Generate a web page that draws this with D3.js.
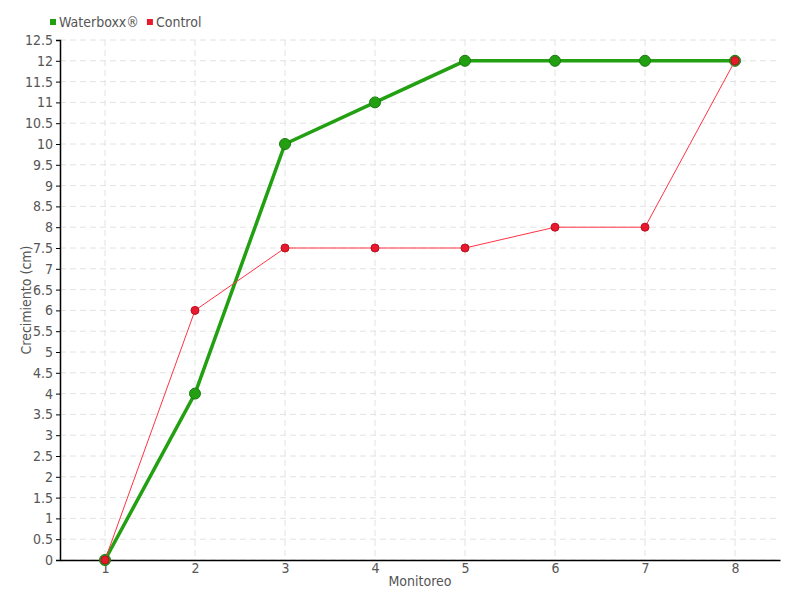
<!DOCTYPE html>
<html>
<head>
<meta charset="utf-8">
<script src="https://cdn.jsdelivr.net/npm/d3@7"></script>
<style>
  body { margin: 0; background: #fff; }
  text { font-family: "DejaVu Sans Condensed", "DejaVu Sans", sans-serif; fill: #555; }
</style>
</head>
<body>
<div id="chart"></div>
<script>
// datos
var monitoreo = [1, 2, 3, 4, 5, 6, 7, 8];
var waterboxx = [0, 4, 10, 11, 12, 12, 12, 12];
var control = [0, 6, 7.5, 7.5, 7.5, 8, 8, 12];
var yTicks = [0, 0.5, 1, 1.5, 2, 2.5, 3, 3.5, 4, 4.5, 5, 5.5, 6, 6.5, 7, 7.5, 8, 8.5, 9, 9.5, 10, 10.5, 11, 11.5, 12, 12.5];

var width = 800, height = 600;
var plotLeft = 60, plotRight = 780, plotTop = 40, plotBottom = 560;

var svg = d3.select("#chart").append("svg")
  .attr("width", width)
  .attr("height", height);

var x = d3.scaleLinear().domain([0.5, 8.5]).range([plotLeft, plotRight]);
var y = d3.scaleLinear().domain([0, 12.5]).range([plotBottom, plotTop]);

// rejilla
var grid = svg.append("g");
grid.selectAll("line.h").data(yTicks).enter().append("line")
  .attr("x1", plotLeft).attr("x2", plotRight)
  .attr("y1", function(d) { return y(d); })
  .attr("y2", function(d) { return y(d); })
  .attr("stroke", "#e2e2e2").attr("stroke-dasharray", "6,4");
grid.selectAll("line.v").data(monitoreo).enter().append("line")
  .attr("x1", function(d) { return x(d); })
  .attr("x2", function(d) { return x(d); })
  .attr("y1", plotTop).attr("y2", plotBottom)
  .attr("stroke", "#e2e2e2").attr("stroke-dasharray", "6,4");

// ejes
var yAxis = svg.append("g")
  .attr("transform", "translate(" + plotLeft + ",0)")
  .call(d3.axisLeft(y).tickValues(yTicks).tickSize(4).tickPadding(3)
    .tickFormat(function(d) { return String(d); }));
var xAxis = svg.append("g")
  .attr("transform", "translate(0," + plotBottom + ")")
  .call(d3.axisBottom(x).tickValues(monitoreo).tickSize(0).tickPadding(3)
    .tickFormat(d3.format("d")));
[yAxis, xAxis].forEach(function(a) {
  a.select(".domain").attr("stroke", "#000").attr("stroke-width", 1.5);
  a.selectAll(".tick line").attr("stroke", "#000");
  a.selectAll("text").attr("font-size", 14).attr("fill", "#555")
    .style("font-family", "'DejaVu Sans Condensed', 'DejaVu Sans', sans-serif");
});

// titulos
svg.append("text")
  .attr("transform", "translate(31," + ((plotTop + plotBottom) / 2) + ") rotate(-90)")
  .attr("text-anchor", "middle")
  .attr("font-size", 14)
  .text("Crecimiento (cm)");
svg.append("text")
  .attr("x", (plotLeft + plotRight) / 2)
  .attr("y", 586)
  .attr("text-anchor", "middle")
  .attr("font-size", 14)
  .text("Monitoreo");

// series
var series = [
  { name: "Waterboxx®", values: waterboxx, color: "#22a012", stroke: "#1a7a10", width: 3.5, r: 5.5 },
  { name: "Control", values: control, color: "#ff3344", stroke: "#b81020", width: 1, r: 4 }
];

var line = d3.line()
  .x(function(d, i) { return x(monitoreo[i]); })
  .y(function(d) { return y(d); });

series.forEach(function(s) {
  var g = svg.append("g");
  g.append("path")
    .attr("d", line(s.values))
    .attr("fill", "none")
    .attr("stroke", s.color)
    .attr("stroke-width", s.width);
  g.selectAll("circle").data(s.values).enter().append("circle")
    .attr("cx", function(d, i) { return x(monitoreo[i]); })
    .attr("cy", function(d) { return y(d); })
    .attr("r", s.r)
    .attr("fill", s.name == "Control" ? "#e8192c" : s.color)
    .attr("stroke", s.stroke)
    .attr("stroke-width", 1);
});

// leyenda
var legend = svg.append("g");
var lx = 50;
series.forEach(function(s) {
  legend.append("rect")
    .attr("x", lx).attr("y", 19)
    .attr("width", 6).attr("height", 6)
    .attr("fill", s.name == "Control" ? "#e8192c" : s.color);
  var t = legend.append("text")
    .attr("x", lx + 9).attr("y", 27)
    .attr("font-size", 14)
    .text(s.name);
  lx += 9 + t.node().getComputedTextLength() + 8;
});
</script>
</body>
</html>
